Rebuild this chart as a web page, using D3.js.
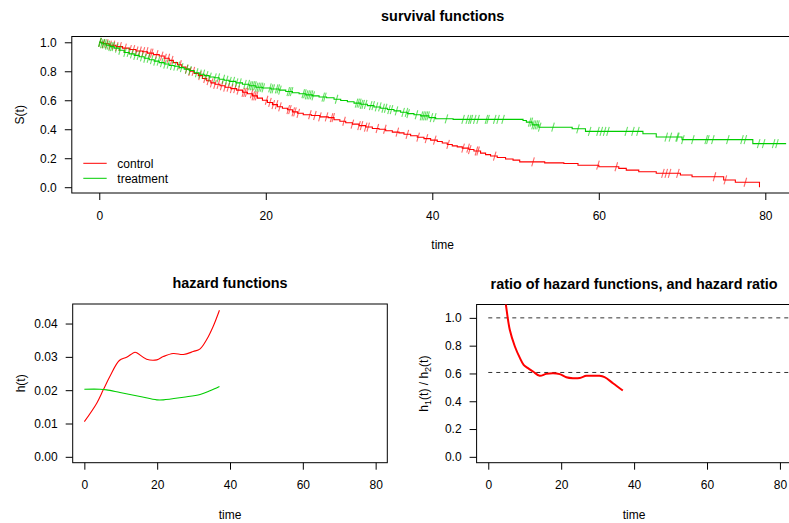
<!DOCTYPE html>
<html>
<head>
<meta charset="utf-8">
<script src="https://cdn.jsdelivr.net/npm/d3@7/dist/d3.min.js"></script>
<style>
  body { margin: 0; background: #fff; }
  svg { display: block; font-family: "Liberation Sans", Arial, Helvetica, sans-serif; }
  .tick text { font-size: 12px; fill: #000; }
  .tick line { stroke: #000; }
  .title { font-size: 14.4px; font-weight: bold; text-anchor: middle; }
  .lab { font-size: 12px; text-anchor: middle; }
</style>
</head>
<body>
<div id="chart"></div>
<script>
// ---- data ----
const groups = ["control", "treatment"];
const groupColors = ["#ff0000", "#00cd00"];

// Kaplan-Meier steps: survival after each event time
const controlTime = [0, 0.5, 1.2, 2.0, 2.8, 3.6, 4.4, 5.2, 5.8, 6.5, 7.2, 7.8, 8.4, 8.9, 9.4, 9.9, 10.4, 10.9, 11.4, 11.9, 12.4, 12.9, 13.4, 13.9, 14.5, 15.1, 15.8, 16.5, 17.2, 17.8, 18.4, 19.0, 19.6, 20.2, 20.8, 21.4, 22.0, 22.6, 23.2, 23.8, 24.5, 25.5, 26.5, 27.5, 28.2, 28.9, 29.6, 30.4, 31.2, 32.0, 32.8, 33.6, 34.4, 35.2, 36.0, 36.6, 37.4, 38.2, 39.0, 39.8, 40.6, 41.2, 41.8, 42.4, 43.0, 43.6, 44.4, 45.0, 45.8, 46.4, 47.0, 47.8, 48.8, 49.7, 50.5, 53.5, 55.8, 57.5, 60.0, 62.4, 63.3, 64.8, 66.9, 69.8, 71.2, 75.0, 76.4, 79.3];
const controlSurv = [1, 0.99, 0.98, 0.97, 0.96, 0.95, 0.94, 0.935, 0.925, 0.915, 0.905, 0.89, 0.875, 0.86, 0.845, 0.83, 0.815, 0.80, 0.785, 0.77, 0.75, 0.735, 0.72, 0.71, 0.70, 0.69, 0.68, 0.67, 0.655, 0.645, 0.63, 0.615, 0.60, 0.585, 0.57, 0.555, 0.545, 0.535, 0.52, 0.51, 0.50, 0.495, 0.485, 0.48, 0.465, 0.455, 0.445, 0.435, 0.425, 0.415, 0.405, 0.40, 0.39, 0.38, 0.375, 0.365, 0.355, 0.345, 0.335, 0.325, 0.315, 0.305, 0.295, 0.285, 0.278, 0.27, 0.26, 0.25, 0.235, 0.225, 0.215, 0.205, 0.195, 0.187, 0.175, 0.168, 0.164, 0.152, 0.141, 0.13, 0.118, 0.107, 0.096, 0.084, 0.072, 0.05, 0.034, 0.0];
const controlCensor = [0.1, 0.5, 0.9, 1.3, 1.7, 2.1, 2.5, 3.1, 3.7, 4.1, 4.5, 4.9, 5.3, 5.7, 6.1, 6.3, 6.9, 7.5, 7.9, 8.3, 8.7, 9.7, 10.5, 10.9, 11.3, 12.1, 12.7, 13.1, 13.5, 13.9, 14.3, 14.7, 15.1, 15.5, 15.9, 16.3, 16.7, 17.3, 17.5, 17.7, 18.3, 18.5, 18.7, 18.9, 20.1, 20.5, 20.9, 21.3, 21.7, 22.7, 22.9, 23.3, 23.5, 23.9, 25.3, 25.9, 26.5, 27.3, 27.9, 28.1, 29.4, 30.4, 31.2, 31.5, 32.0, 32.3, 33.4, 34.3, 35.8, 37.0, 38.3, 39.3, 40.3, 41.9, 43.7, 44.3, 44.5, 45.3, 45.5, 47.5, 52.1, 59.9, 62.1, 67.7, 68.1, 68.5, 69.5, 73.9, 75.2, 77.6];

const treatTime = [0, 0.3, 0.8, 1.3, 1.8, 2.4, 3.0, 3.6, 4.2, 4.8, 5.4, 6.0, 6.6, 7.2, 7.8, 8.4, 9.0, 9.6, 10.2, 10.8, 11.4, 12.0, 12.6, 13.2, 13.8, 14.4, 15.0, 15.6, 16.4, 17.2, 18.0, 18.8, 19.6, 20.6, 21.6, 22.4, 23.2, 24.0, 24.8, 25.6, 26.4, 27.3, 28.2, 29.0, 29.8, 30.6, 31.4, 32.2, 33.0, 33.8, 34.6, 35.4, 36.2, 37.0, 37.8, 38.6, 39.6, 40.4, 42.5, 50.9, 51.3, 52.0, 52.8, 56.8, 58.4, 65.3, 66.9, 70.0, 78.5];
const treatSurv = [1, 0.99, 0.98, 0.97, 0.96, 0.945, 0.93, 0.92, 0.91, 0.90, 0.89, 0.88, 0.87, 0.86, 0.85, 0.84, 0.835, 0.825, 0.815, 0.805, 0.79, 0.78, 0.77, 0.76, 0.755, 0.745, 0.738, 0.73, 0.72, 0.71, 0.70, 0.69, 0.685, 0.678, 0.67, 0.66, 0.652, 0.645, 0.637, 0.63, 0.622, 0.617, 0.607, 0.598, 0.59, 0.58, 0.572, 0.563, 0.554, 0.545, 0.536, 0.527, 0.517, 0.508, 0.50, 0.492, 0.48, 0.472, 0.468, 0.46, 0.449, 0.43, 0.414, 0.403, 0.385, 0.369, 0.346, 0.328, 0.301];
const treatCensor = [0.05, 0.1, 0.3, 0.5, 0.7, 0.9, 1.1, 1.3, 1.5, 1.7, 2.1, 2.5, 3.1, 3.5, 3.9, 4.3, 4.7, 5.1, 5.5, 5.9, 6.3, 6.7, 7.1, 7.5, 7.9, 8.3, 8.7, 9.1, 9.5, 9.9, 10.5, 10.9, 11.7, 12.1, 12.5, 12.9, 13.3, 13.9, 14.3, 14.9, 15.3, 15.7, 16.1, 16.5, 16.9, 17.5, 17.9, 18.1, 18.3, 18.5, 18.7, 18.9, 19.1, 19.3, 19.5, 19.7, 20.5, 20.7, 20.9, 21.3, 21.5, 21.7, 22.7, 22.9, 23.1, 24.5, 24.7, 24.9, 25.1, 25.3, 25.5, 25.7, 26.9, 27.1, 28.5, 30.9, 31.1, 31.3, 31.5, 31.7, 32.0, 32.6, 32.9, 33.3, 33.7, 34.1, 34.4, 34.8, 35.1, 35.7, 36.5, 36.9, 37.1, 38.1, 38.7, 38.9, 39.1, 39.3, 39.5, 39.9, 40.3, 41.7, 43.7, 44.2, 44.5, 44.7, 45.1, 45.5, 46.5, 46.7, 47.5, 47.9, 48.5, 51.7, 51.9, 52.1, 52.3, 52.5, 52.7, 52.9, 54.5, 57.5, 58.9, 59.9, 60.3, 60.7, 61.1, 63.3, 64.1, 64.7, 68.1, 68.6, 69.4, 69.5, 70.1, 71.3, 72.9, 73.1, 73.7, 75.5, 77.2, 77.6, 79.2, 79.8, 81.0, 81.4];
const treatLastTime = 82.5;

// smoothed hazards
const hazControlTime = [0, 3.4, 5.2, 7.0, 9.6, 11.6, 13.9, 14.6, 17.1, 19.9, 21.7, 24.4, 27.2, 29.9, 31.8, 33.6, 35.4, 37.1];
const hazControl = [0.01055, 0.0161, 0.0201, 0.0241, 0.0289, 0.0299, 0.0314, 0.0311, 0.0293, 0.0291, 0.0301, 0.0310, 0.0307, 0.0316, 0.0324, 0.0352, 0.0392, 0.0440];
const hazTreatTime = [0, 4.3, 6.1, 9.8, 15.3, 19.9, 21.7, 27.2, 31.8, 34.5, 37.1];
const hazTreat = [0.0203, 0.0203, 0.0201, 0.0193, 0.0181, 0.0171, 0.0171, 0.0179, 0.0187, 0.0198, 0.0211];

// ratio of hazards and reference lines
const ratioTime = [4.3, 4.83, 5.9, 7.3, 8.7, 9.7, 10.9, 12.3, 14.1, 15.9, 17.8, 19.6, 21.4, 23.2, 25.1, 26.9, 28.7, 30.5, 31.9, 34.2, 36.9];
const ratioValue = [1.2, 1.096, 0.914, 0.794, 0.710, 0.662, 0.638, 0.614, 0.583, 0.597, 0.602, 0.595, 0.573, 0.566, 0.568, 0.583, 0.583, 0.583, 0.573, 0.530, 0.477];
const refLines = [1.0, 0.607];

const xTicks = [0, 20, 40, 60, 80];
const survTicks = [0, 0.2, 0.4, 0.6, 0.8, 1.0];
const hazTicks = [0, 0.01, 0.02, 0.03, 0.04];
const ratioTicks = [0, 0.2, 0.4, 0.6, 0.8, 1.0];

// ---- drawing ----
const svg = d3.select("#chart").append("svg")
    .attr("width", 789)
    .attr("height", 523);

function rExt(lo, hi) {
    let d = (hi - lo) * 0.04;
    return [lo - d, hi + d];
}

function panel(box, xdom, ydom, yTicks, yFmt, title, id) {
    let p = {};
    p.x = d3.scaleLinear().domain(rExt(xdom[0], xdom[1])).range([box.left, box.right]);
    p.y = d3.scaleLinear().domain(rExt(ydom[0], ydom[1])).range([box.bottom, box.top]);

    svg.append("defs").append("clipPath").attr("id", id)
        .append("rect")
        .attr("x", box.left).attr("y", box.top)
        .attr("width", box.right - box.left).attr("height", box.bottom - box.top);

    let xa = svg.append("g")
        .attr("transform", "translate(0," + box.bottom + ")")
        .call(d3.axisBottom(p.x).tickValues(xTicks).tickSize(7).tickPadding(11).tickFormat(d3.format("d")));
    xa.select(".domain").remove();

    let ya = svg.append("g")
        .attr("transform", "translate(" + box.left + ",0)")
        .call(d3.axisLeft(p.y).tickValues(yTicks).tickSize(7).tickPadding(8).tickFormat(d3.format(yFmt)));
    ya.select(".domain").remove();

    svg.append("rect")
        .attr("x", box.left).attr("y", box.top)
        .attr("width", box.right - box.left).attr("height", box.bottom - box.top)
        .attr("fill", "none").attr("stroke", "#000").attr("stroke-width", 1);

    svg.append("text").attr("class", "title")
        .attr("x", (box.left + box.right) / 2).attr("y", box.top - 16)
        .text(title);

    svg.append("text").attr("class", "lab")
        .attr("x", (box.left + box.right) / 2).attr("y", box.bottom + 56)
        .text("time");

    p.g = svg.append("g").attr("clip-path", "url(#" + id + ")");
    return p;
}

// survival panel
let survPanel = panel({left: 71.8, right: 813.6, top: 36.5, bottom: 193}, [0, 82.5], [0, 1],
    survTicks, ".1f", "survival functions", "clipTop");

svg.append("text").attr("class", "lab")
    .attr("transform", "translate(24," + (36.5 + 193) / 2 + ") rotate(-90)")
    .text("S(t)");

const survSets = [
    {time: controlTime, surv: controlSurv, censor: controlCensor, end: controlTime[controlTime.length - 1]},
    {time: treatTime, surv: treatSurv, censor: treatCensor, end: treatLastTime}
];

const stepLine = d3.line()
    .x(d => survPanel.x(d[0]))
    .y(d => survPanel.y(d[1]))
    .curve(d3.curveStepAfter);

survSets.forEach((s, i) => {
    let pts = s.time.map((t, j) => [t, s.surv[j]]);
    pts.push([s.end, s.surv[s.surv.length - 1]]);

    // censoring marks
    let marks = s.censor.map(t => {
        let k = d3.bisectRight(s.time, t) - 1;
        return [t, s.surv[Math.max(k, 0)]];
    });
    survPanel.g.selectAll(".cens" + i)
        .data(marks)
        .enter().append("line")
        .attr("x1", d => survPanel.x(d[0]) - 1.3)
        .attr("x2", d => survPanel.x(d[0]) + 1.3)
        .attr("y1", d => survPanel.y(d[1]) + 4.5)
        .attr("y2", d => survPanel.y(d[1]) - 4.5)
        .attr("stroke", groupColors[i])
        .attr("stroke-opacity", 0.6)
        .attr("stroke-width", 1.1);

    survPanel.g.append("path")
        .datum(pts)
        .attr("fill", "none")
        .attr("stroke", groupColors[i])
        .attr("stroke-width", 1.1)
        .attr("d", stepLine);
});

// legend
let leg = svg.append("g");
groups.forEach((g, i) => {
    leg.append("line")
        .attr("x1", 83.3).attr("x2", 106.7)
        .attr("y1", 163.3 + i * 15).attr("y2", 163.3 + i * 15)
        .attr("stroke", groupColors[i]).attr("stroke-width", 1);
    leg.append("text")
        .attr("x", 117.3).attr("y", 163.3 + i * 15).attr("dy", "0.35em")
        .attr("font-size", "12px")
        .text(g);
});

// hazard panel
let haz = panel({left: 72.7, right: 387.3, top: 304, bottom: 462.7}, [0, 80], [0, 0.0441],
    hazTicks, ".2f", "hazard functions", "clipHaz");

svg.append("text").attr("class", "lab")
    .attr("transform", "translate(25," + (304 + 462.7) / 2 + ") rotate(-90)")
    .text("h(t)");

const hazLine = d3.line()
    .x(d => haz.x(d[0]))
    .y(d => haz.y(d[1]))
    .curve(d3.curveCatmullRom);

[[hazControlTime, hazControl], [hazTreatTime, hazTreat]].forEach((h, i) => {
    haz.g.append("path")
        .datum(h[0].map((t, j) => [t, h[1][j]]))
        .attr("fill", "none")
        .attr("stroke", groupColors[i])
        .attr("stroke-width", 1.1)
        .attr("d", hazLine);
});

// ratio panel
let rat = panel({left: 476.6, right: 791.6, top: 304.5, bottom: 462.7}, [0, 80], [0, 1.054],
    ratioTicks, ".1f", "ratio of hazard functions, and hazard ratio", "clipRat");

let yl = svg.append("text").attr("class", "lab")
    .attr("transform", "translate(428," + (304.5 + 462.7) / 2 + ") rotate(-90)");
yl.append("tspan").text("h");
yl.append("tspan").attr("font-size", "9px").attr("dy", "3").text("1");
yl.append("tspan").attr("dy", "-3").text("(t) / h");
yl.append("tspan").attr("font-size", "9px").attr("dy", "3").text("2");
yl.append("tspan").attr("dy", "-3").text("(t)");

rat.g.selectAll(".ref")
    .data(refLines)
    .enter().append("line")
    .attr("x1", rat.x(0)).attr("x2", rat.x(86))
    .attr("y1", d => rat.y(d)).attr("y2", d => rat.y(d))
    .attr("stroke", "#333")
    .attr("stroke-width", 1)
    .attr("stroke-dasharray", "4,4");

rat.g.append("path")
    .datum(ratioTime.map((t, j) => [t, ratioValue[j]]))
    .attr("fill", "none")
    .attr("stroke", "#ff0000")
    .attr("stroke-width", 2)
    .attr("d", d3.line().x(d => rat.x(d[0])).y(d => rat.y(d[1])).curve(d3.curveCatmullRom));
</script>
</body>
</html>
